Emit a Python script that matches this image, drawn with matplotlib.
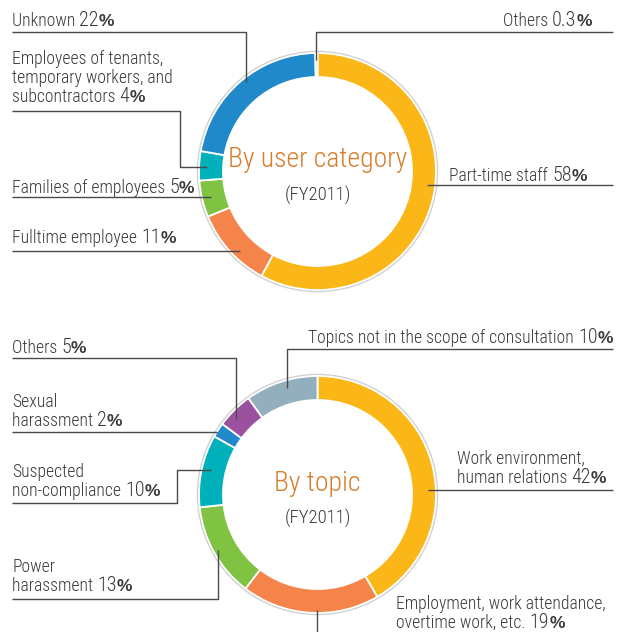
import matplotlib
matplotlib.use("Agg")
import matplotlib.pyplot as plt
from matplotlib import font_manager
from matplotlib.patches import Circle

# --- Data ---
user_labels = ["Part-time staff", "Fulltime employee", "Families of employees",
               "Employees of tenants,\ntemporary workers, and\nsubcontractors",
               "Unknown", "Others"]
user_values = [58, 11, 5, 4, 22, 0.3]
user_pct = ["58", "11", "5", "4", "22", "0.3"]

topic_labels = ["Work environment,\nhuman relations",
                "Employment, work attendance,\novertime work, etc.",
                "Power\nharassment", "Suspected\nnon-compliance",
                "Sexual\nharassment", "Others",
                "Topics not in the scope of consultation"]
topic_values = [42, 19, 13, 10, 2, 5, 10]
topic_pct = ["42", "19", "13", "10", "2", "5", "10"]

user_colors = ["#FBB718", "#F5844A", "#80C242", "#00B1BC", "#1F89CA", "#93AFBD"]
topic_colors = ["#FBB718", "#F5844A", "#80C242", "#00B1BC", "#1F89CA", "#9C519F", "#93AFBD"]

# --- Layout (pixel coords, y from top) ---
W, H = 623, 632
R_OUT, RING = 118.5, 24
TXT = "#3a3a3a"
LINE = "#4a4a4a"
TITLE = "#D67D2C"

# pick a narrow sans if one is installed
fonts = font_manager.fontManager.ttflist
names = {f.name for f in fonts}
FONT, STRETCH, SCALE = ["Liberation Sans", "DejaVu Sans"], "normal", 0.9
for cand in ["Liberation Sans Narrow", "Roboto Condensed", "Open Sans Condensed",
             "Noto Sans Condensed", "DejaVu Sans Condensed"]:
    if cand in names:
        FONT, STRETCH, SCALE = [cand, "DejaVu Sans"], "condensed", 1.0
        break
PCT_FONT = ["Liberation Sans", "DejaVu Sans"]
WEIGHT = "light"

# label anchor: (x, baseline of last line, align)
user_pos = [(587, 181, "right"), (12, 243, "left"), (12, 193, "left"),
            (12, 102, "left"), (12, 26, "left"), (592, 26, "right")]
topic_pos = [(457, 483, "left"), (396, 628, "left"), (12, 591, "left"),
             (12, 496, "left"), (12, 426, "left"), (12, 353, "left"),
             (613, 343, "right")]

user_leaders = [[(427, 185), (613, 185)], [(12, 251), (240, 251)],
                [(12, 197), (211, 197)],
                [(12, 111), (180, 111), (180, 167), (207, 167)],
                [(12, 32), (246, 32), (246, 82)],
                [(613, 32), (316, 32), (316, 60)]]
topic_leaders = [[(428, 490), (613, 490)], [(317, 610), (317, 632)],
                 [(12, 599), (218, 599), (218, 550)],
                 [(12, 503), (177, 503), (177, 470), (211, 470)],
                 [(12, 432), (217, 432)],
                 [(12, 358), (236, 358), (236, 419)],
                 [(613, 349), (287, 349), (287, 388)]]

fig = plt.figure(figsize=(W / 100, H / 100), dpi=100)
ax = fig.add_axes([0, 0, 1, 1])
renderer = fig.canvas.get_renderer()


def fy(y):
    return H - y


def txt(x, y, s, fs, family=None, fontweight=WEIGHT, **kw):
    return ax.text(x, fy(y), s, fontsize=fs * SCALE, family=family or FONT,
                   fontstretch=STRETCH, fontweight=fontweight,
                   va="baseline", **kw)


def put_label(x, y, text, num, ha):
    lines = text.split("\n")
    objs = [txt(0, y, lines[-1] + " ", 12.7, color=TXT, ha="left"),
            txt(0, y, num, 14.5, color=TXT, ha="left"),
            txt(0, y, "%", 12.5, family=PCT_FONT, fontweight="bold",
                color=TXT, ha="left")]
    widths = [o.get_window_extent(renderer=renderer).width for o in objs]
    x0 = x if ha == "left" else x - sum(widths)
    cx = x0
    for o, w in zip(objs, widths):
        o.set_x(cx)
        cx += w
    for i, ln in enumerate(reversed(lines[:-1])):
        txt(x0, y - 19 * (i + 1), ln, 12.7, color=TXT, ha="left")


def donut(values, colors, cy, labels, pcts, pos, leaders, title, title_y, sub_y):
    # soft shadow on the outer edge
    ax.add_patch(Circle((317.5, fy(cy)), R_OUT + 1.2, facecolor="none",
                        edgecolor="#d0d0d0", linewidth=1.5, zorder=0))
    ax.pie(values, colors=colors, startangle=90, counterclock=False,
           radius=R_OUT, center=(317.5, fy(cy)),
           wedgeprops=dict(width=RING, edgecolor="white", linewidth=1.3))
    for (x, y, ha), lab, p in zip(pos, labels, pcts):
        put_label(x, y, lab, p, ha)
    for seg in leaders:
        ax.plot([p[0] for p in seg], [fy(p[1]) for p in seg], color=LINE,
                linewidth=1.0, zorder=5, solid_capstyle="butt")
    txt(317.5, title_y, title, 20, color=TITLE, ha="center")
    txt(317.5, sub_y, "(FY2011)", 13.5, color=TXT, ha="center")


donut(user_values, user_colors, 171.5, user_labels, user_pct, user_pos,
      user_leaders, "By user category", 167, 201)
donut(topic_values, topic_colors, 494.5, topic_labels, topic_pct, topic_pos,
      topic_leaders, "By topic", 491, 524)

ax.set_xlim(0, W)
ax.set_ylim(0, H)
ax.set_aspect("equal")
ax.axis("off")

fig.savefig("out.png", dpi=100, facecolor="white")
